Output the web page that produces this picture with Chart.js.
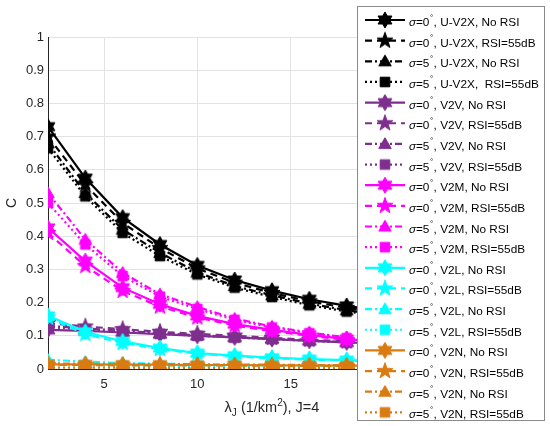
<!DOCTYPE html>
<html><head><meta charset="utf-8">
<script src="https://cdn.jsdelivr.net/npm/chart.js@4/dist/chart.umd.min.js"></script>
<style>html,body{margin:0;padding:0;background:#fff}#wrap{width:550px;height:426px;position:relative}</style>
</head><body><div id="wrap"><canvas id="c" width="550" height="426"></canvas></div>
<script>
// ---------- data ----------
const lambdaJ = [2, 4, 6, 8, 10, 12, 14, 16, 18, 20];
const xTickValues = [5, 10, 15, 20, 25];
const yTickValues = [0, 0.1, 0.2, 0.3, 0.4, 0.5, 0.6, 0.7, 0.8, 0.9, 1];
const xAxisTitle = ["λ", "J", " (1/km", "2", "), J=4"];
const yAxisTitle = "C";

const uv2x_s0_noRSI = [0.730, 0.575, 0.456, 0.375, 0.312, 0.268, 0.236, 0.210, 0.190, 0.174];
const uv2x_s0_RSI   = [0.700, 0.555, 0.440, 0.364, 0.303, 0.260, 0.229, 0.204, 0.184, 0.168];
const uv2x_s5_noRSI = [0.680, 0.530, 0.420, 0.350, 0.291, 0.250, 0.222, 0.197, 0.177, 0.162];
const uv2x_s5_RSI   = [0.665, 0.520, 0.410, 0.340, 0.285, 0.245, 0.217, 0.192, 0.173, 0.158];

const v2v_s0_noRSI = [0.118, 0.115, 0.110, 0.105, 0.100, 0.095, 0.090, 0.085, 0.080, 0.076];
const v2v_s0_RSI   = [0.138, 0.128, 0.120, 0.112, 0.106, 0.100, 0.094, 0.088, 0.083, 0.078];
const v2v_s5_noRSI = [0.130, 0.122, 0.115, 0.108, 0.102, 0.096, 0.091, 0.086, 0.081, 0.077];
const v2v_s5_RSI   = [0.126, 0.119, 0.113, 0.106, 0.100, 0.095, 0.090, 0.085, 0.080, 0.076];

const v2m_s0_noRSI = [0.425, 0.325, 0.245, 0.195, 0.160, 0.135, 0.118, 0.103, 0.090, 0.080];
const v2m_s0_RSI   = [0.410, 0.310, 0.235, 0.188, 0.155, 0.131, 0.114, 0.100, 0.088, 0.078];
const v2m_s5_noRSI = [0.530, 0.390, 0.290, 0.225, 0.187, 0.152, 0.128, 0.110, 0.095, 0.083];
const v2m_s5_RSI   = [0.500, 0.375, 0.280, 0.218, 0.181, 0.148, 0.125, 0.108, 0.093, 0.082];

const v2l_s0_noRSI = [0.160, 0.112, 0.083, 0.063, 0.048, 0.040, 0.034, 0.030, 0.027, 0.024];
const v2l_s0_RSI   = [0.155, 0.105, 0.078, 0.060, 0.046, 0.038, 0.032, 0.028, 0.025, 0.022];
const v2l_s5_noRSI = [0.028, 0.022, 0.018, 0.016, 0.014, 0.012, 0.011, 0.010, 0.009, 0.008];
const v2l_s5_RSI   = [0.012, 0.011, 0.010, 0.009, 0.009, 0.008, 0.008, 0.007, 0.007, 0.006];

const v2n_s0_noRSI = [0.014, 0.014, 0.013, 0.013, 0.012, 0.012, 0.011, 0.011, 0.010, 0.010];
const v2n_s0_RSI   = [0.012, 0.012, 0.011, 0.011, 0.011, 0.010, 0.010, 0.009, 0.009, 0.009];
const v2n_s5_noRSI = [0.017, 0.016, 0.015, 0.015, 0.014, 0.013, 0.013, 0.012, 0.012, 0.011];
const v2n_s5_RSI   = [0.004, 0.004, 0.004, 0.003, 0.003, 0.003, 0.003, 0.003, 0.002, 0.002];

const seriesLabels = [
  "σ=0°, U-V2X, No RSI", "σ=0°, U-V2X, RSI=55dB", "σ=5°, U-V2X, No RSI", "σ=5°, U-V2X,  RSI=55dB",
  "σ=0°, V2V, No RSI", "σ=0°, V2V, RSI=55dB", "σ=5°, V2V, No RSI", "σ=5°, V2V, RSI=55dB",
  "σ=0°, V2M, No RSI", "σ=0°, V2M, RSI=55dB", "σ=5°, V2M, No RSI", "σ=5°, V2M, RSI=55dB",
  "σ=0°, V2L, No RSI", "σ=0°, V2L, RSI=55dB", "σ=5°, V2L, No RSI", "σ=5°, V2L, RSI=55dB",
  "σ=0°, V2N, No RSI", "σ=0°, V2N, RSI=55dB", "σ=5°, V2N, No RSI", "σ=5°, V2N, RSI=55dB"
];
const seriesValues = [
  uv2x_s0_noRSI, uv2x_s0_RSI, uv2x_s5_noRSI, uv2x_s5_RSI,
  v2v_s0_noRSI, v2v_s0_RSI, v2v_s5_noRSI, v2v_s5_RSI,
  v2m_s0_noRSI, v2m_s0_RSI, v2m_s5_noRSI, v2m_s5_RSI,
  v2l_s0_noRSI, v2l_s0_RSI, v2l_s5_noRSI, v2l_s5_RSI,
  v2n_s0_noRSI, v2n_s0_RSI, v2n_s5_noRSI, v2n_s5_RSI
];

// ---------- styles ----------
const groupColors = ["#000000", "#7E2F8E", "#FF00FF", "#00FFFF", "#DA7B12"];
const variantDash = [[], [7, 5], [7, 3, 2, 3], [2, 3]];
const variantShape = ["hexagram", "pentagram", "triangle", "square"];

function makeMarker(shape, color) {
  const s = 20, c = document.createElement('canvas');
  c.width = s; c.height = s;
  const g = c.getContext('2d'), cx = s / 2, cy = s / 2;
  g.beginPath();
  if (shape === "hexagram" || shape === "pentagram") {
    const n = shape === "hexagram" ? 6 : 5;
    const ro = shape === "hexagram" ? 8 : 8.4;
    const ri = shape === "hexagram" ? ro / Math.sqrt(3) : ro * 0.40;
    for (let k = 0; k < 2 * n; k++) {
      const r = k % 2 === 0 ? ro : ri;
      const a = -Math.PI / 2 + k * Math.PI / n;
      const px = cx + r * Math.cos(a), py = cy + r * Math.sin(a);
      k === 0 ? g.moveTo(px, py) : g.lineTo(px, py);
    }
  } else if (shape === "triangle") {
    const r = 7.2;
    for (let k = 0; k < 3; k++) {
      const a = -Math.PI / 2 + k * 2 * Math.PI / 3;
      const px = cx + r * Math.cos(a), py = cy + 1 + r * Math.sin(a);
      k === 0 ? g.moveTo(px, py) : g.lineTo(px, py);
    }
  } else {
    g.rect(cx - 4.8, cy - 4.8, 9.6, 9.6);
  }
  g.closePath();
  g.fillStyle = color; g.fill();
  g.strokeStyle = color; g.lineWidth = 1; g.stroke();
  return c;
}

const datasets = seriesValues.map((vals, i) => {
  const grp = Math.floor(i / 4), v = i % 4;
  const col = groupColors[grp];
  return {
    label: seriesLabels[i],
    data: lambdaJ.map((x, j) => ({ x: x, y: vals[j] })),
    borderColor: col,
    backgroundColor: col,
    borderWidth: 2.2,
    borderDash: variantDash[v],
    pointStyle: makeMarker(variantShape[v], col),
    pointRadius: 7,
    pointHoverRadius: 7,
    fill: false,
    tension: 0,
    order: 20 - i
  };
});

// ---------- overlay (axis titles + legend) ----------
const FONT = '"Liberation Sans", Arial, Helvetica, sans-serif';
const overlay = {
  id: 'overlay',
  afterDraw(chart) {
    const ctx = chart.ctx;
    ctx.save();
    ctx.fillStyle = '#262626';
    ctx.textBaseline = 'alphabetic';
    // x-axis title
    const big = '14.5px ' + FONT, small = '10px ' + FONT;
    const parts = [
      { t: xAxisTitle[0], f: big, dy: 0 },
      { t: xAxisTitle[1], f: small, dy: 4 },
      { t: xAxisTitle[2], f: big, dy: 0 },
      { t: xAxisTitle[3], f: small, dy: -6 },
      { t: xAxisTitle[4], f: big, dy: 0 }
    ];
    let total = 0;
    parts.forEach(p => { ctx.font = p.f; p.w = ctx.measureText(p.t).width; total += p.w; });
    let xx = 272 - total / 2;
    parts.forEach(p => { ctx.font = p.f; ctx.fillText(p.t, xx, 412 + p.dy); xx += p.w; });
    // y-axis title
    ctx.save();
    ctx.translate(16, 203);
    ctx.rotate(-Math.PI / 2);
    ctx.font = '14px ' + FONT;
    ctx.textAlign = 'center';
    ctx.fillText(yAxisTitle, 0, 0);
    ctx.restore();

    // legend box
    const bx = 357.5, by = 6.5, bw = 187, bh = 414;
    ctx.fillStyle = '#ffffff';
    ctx.fillRect(bx, by, bw, bh);
    ctx.strokeStyle = '#8a8a8a';
    ctx.lineWidth = 1;
    ctx.setLineDash([]);
    ctx.strokeRect(bx, by, bw, bh);
    chart.data.datasets.forEach((ds, i) => {
      const y = 20 + i * 20.65;
      ctx.save();
      ctx.strokeStyle = ds.borderColor;
      ctx.lineWidth = 2.2;
      ctx.setLineDash(ds.borderDash);
      ctx.beginPath(); ctx.moveTo(365, y); ctx.lineTo(405, y); ctx.stroke();
      ctx.restore();
      const img = ds.pointStyle;
      ctx.drawImage(img, 385 - img.width / 2, y - img.height / 2);
      // text
      const lbl = ds.label;
      const deg = lbl.indexOf('°');
      const pre = lbl.slice(1, deg), post = lbl.slice(deg + 1);
      let tx = 409;
      const ty = y + 6;
      ctx.fillStyle = '#000000';
      ctx.font = 'italic 11.5px ' + FONT;
      ctx.fillText('σ', tx, ty); tx += ctx.measureText('σ').width;
      ctx.font = '11.8px ' + FONT;
      ctx.fillText(pre, tx, ty); tx += ctx.measureText(pre).width;
      ctx.font = '8px ' + FONT;
      ctx.fillText('°', tx + 0.5, ty - 6.5); tx += ctx.measureText('°').width + 1;
      ctx.font = '11.8px ' + FONT;
      ctx.fillText(post, tx, ty);
    });
    ctx.restore();
  }
};

new Chart(document.getElementById('c'), {
  type: 'line',
  data: { datasets: datasets },
  options: {
    responsive: false,
    animation: false,
    devicePixelRatio: 1,
    layout: { padding: { left: 0, top: 37, right: 54, bottom: 0 } },
    plugins: { legend: { display: false }, tooltip: { enabled: false } },
    scales: {
      x: {
        type: 'linear', min: 2, max: 26,
        afterBuildTicks: (s) => { s.ticks = xTickValues.map(v => ({ value: v })); },
        afterFit: (s) => { s.height = 57; },
        grid: { color: '#e3e3e3', drawTicks: false },
        border: { display: true, color: '#262626', width: 1 },
        ticks: { color: '#262626', font: { family: FONT, size: 13 }, padding: 8, maxRotation: 0 }
      },
      y: {
        type: 'linear', min: 0, max: 1,
        afterBuildTicks: (s) => { s.ticks = yTickValues.map(v => ({ value: v })); },
        afterFit: (s) => { s.width = 48; },
        grid: { color: '#e3e3e3', drawTicks: false },
        border: { display: true, color: '#262626', width: 1 },
        ticks: { color: '#262626', font: { family: FONT, size: 13 }, padding: 4,
                 callback: (v) => String(Math.round(v * 10) / 10) }
      }
    }
  },
  plugins: [overlay]
});
</script></body></html>
